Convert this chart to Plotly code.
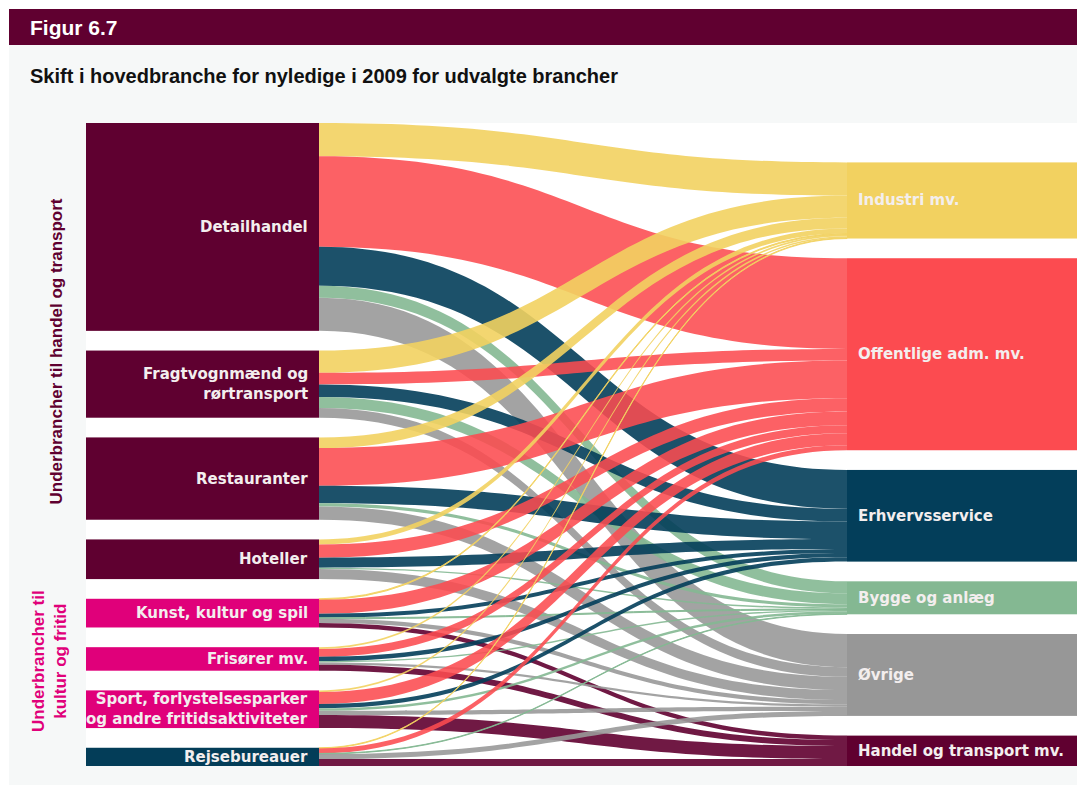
import plotly.graph_objects as go

# ---------------- data ----------------
source_names = [
    "Detailhandel",
    "Fragtvognmænd og<br>rørtransport",
    "Restauranter",
    "Hoteller",
    "Kunst, kultur og spil",
    "Frisører mv.",
    "Sport, forlystelsesparker<br>og andre fritidsaktiviteter",
    "Rejsebureauer",
]
target_names = [
    "Industri mv.",
    "Offentlige adm. mv.",
    "Erhvervsservice",
    "Bygge og anlæg",
    "Øvrige",
    "Handel og transport mv.",
]

# flows from each source to the targets (same order as target_names)
detailhandel = [333, 910, 390, 120, 333, 0]
fragtvognmaend = [223, 117, 127, 110, 97, 0]
restauranter = [107, 377, 177, 32, 133, 0]
hoteller = [50, 133, 100, 15, 100, 0]
kunst_kultur_spil = [10, 140, 40, 10, 43, 45]
frisoerer = [17, 80, 43, 13, 23, 60]
sport_fritid = [17, 120, 43, 25, 43, 130]
rejsebureauer = [7, 50, 0, 6, 50, 70]

flows = [detailhandel, fragtvognmaend, restauranter, hoteller,
         kunst_kultur_spil, frisoerer, sport_fritid, rejsebureauer]

source_colors = ["#5f0030", "#5f0030", "#5f0030", "#5f0030",
                 "#e0007a", "#e0007a", "#e0007a", "#033d58"]
target_colors = ["#f2d160", "#fc4b50", "#033e5a", "#84b892", "#979797", "#600030"]
link_colors = ["rgba(242,209,96,0.9)", "rgba(252,75,80,0.88)", "rgba(3,62,90,0.9)",
               "rgba(132,184,146,0.9)", "rgba(153,153,153,0.9)", "rgba(96,0,48,0.9)"]

# ---------------- geometry ----------------
FIG_W, FIG_H = 1077, 777
PX0, PX1 = 78, 1072      # sankey area (px from left)
PY0, PY1 = 115, 758      # sankey area (px from top)
W, H = PX1 - PX0, PY1 - PY0
THICK = 233
PAD = 19.7

nS, nT = len(source_names), len(target_names)
src_tot = [sum(r) for r in flows]
tgt_tot = [sum(r[j] for r in flows) for j in range(nT)]
total = sum(src_tot)
ky = (H - (nS - 1) * PAD) / total

# node centres (px from top of sankey area)
left_c = []
cur = 0.0
for v in src_tot:
    h = v * ky
    left_c.append(cur + h / 2)
    cur += h + PAD
right_c = [0.0] * nT
cur = H
for j in range(nT - 1, -1, -1):
    h = tgt_tot[j] * ky
    right_c[j] = cur - h / 2
    cur -= h + PAD

node_x = [(THICK / 2) / W] * nS + [(W - THICK / 2) / W] * nT
node_y = [c / H for c in left_c] + [c / H for c in right_c]

src_idx, tgt_idx, vals, lcols = [], [], [], []
for i, row in enumerate(flows):
    for j, v in enumerate(row):
        if v > 0:
            src_idx.append(i)
            tgt_idx.append(nS + j)
            vals.append(v)
            lcols.append(link_colors[j])

fig = go.Figure(go.Sankey(
    arrangement="fixed",
    domain=dict(x=[PX0 / FIG_W, PX1 / FIG_W], y=[1 - PY1 / FIG_H, 1 - PY0 / FIG_H]),
    node=dict(
        label=["" for _ in range(nS + nT)],
        customdata=[n.replace("<br>", " ") for n in source_names + target_names],
        hovertemplate="%{customdata}<extra></extra>",
        color=source_colors + target_colors,
        x=node_x, y=node_y,
        thickness=THICK, pad=PAD,
        line=dict(width=0),
    ),
    link=dict(source=src_idx, target=tgt_idx, value=vals, color=lcols,
              hoverinfo="skip"),
))

shapes = [
    dict(type="rect", xref="paper", yref="paper", x0=1 / FIG_W, x1=1, y0=0, y1=1 - 37 / FIG_H,
         fillcolor="#f6f8f8", line=dict(width=0), layer="below"),
    dict(type="rect", xref="paper", yref="paper", x0=1 / FIG_W, x1=1, y0=1 - 37 / FIG_H, y1=1 - 1 / FIG_H,
         fillcolor="#600030", line=dict(width=0), layer="below"),
    dict(type="rect", xref="paper", yref="paper", x0=PX0 / FIG_W, x1=PX1 / FIG_W,
         y0=1 - PY1 / FIG_H, y1=1 - PY0 / FIG_H,
         fillcolor="#ffffff", line=dict(width=0), layer="below"),
]

lab_font = dict(family="DejaVu Sans", size=15, color="#f3eeee", weight="bold")
ann = []
for i, name in enumerate(source_names):
    ann.append(dict(text=name, x=(PX0 + THICK - 9) / FIG_W, y=1 - (PY0 + left_c[i]) / FIG_H,
                    xref="paper", yref="paper", xanchor="right", yanchor="middle",
                    align="right", showarrow=False, font=lab_font))
for j, name in enumerate(target_names):
    ann.append(dict(text=name, x=(PX1 - THICK + 9) / FIG_W, y=1 - (PY0 + right_c[j]) / FIG_H,
                    xref="paper", yref="paper", xanchor="left", yanchor="middle",
                    align="left", showarrow=False, font=lab_font))

ann += [
    dict(text="Figur 6.7", x=20 / FIG_W, y=1 - 19.5 / FIG_H, xref="paper", yref="paper",
         xanchor="left", yanchor="middle", showarrow=False,
         font=dict(family="Liberation Sans", size=21, color="#ffffff", weight="bold")),
    dict(text="Skift i hovedbranche for nyledige i 2009 for udvalgte brancher",
         x=20 / FIG_W, y=1 - 68 / FIG_H, xref="paper", yref="paper",
         xanchor="left", yanchor="middle", showarrow=False,
         font=dict(family="Liberation Sans", size=20, color="#111111", weight="bold")),
    dict(text="Underbrancher til handel og transport", x=48 / FIG_W, y=1 - 343.5 / FIG_H,
         xref="paper", yref="paper", xanchor="center", yanchor="middle", textangle=-90,
         showarrow=False,
         font=dict(family="Liberation Sans", size=17, color="#5f0030", weight="bold")),
    dict(text="Underbrancher til<br>kultur og fritid", x=41 / FIG_W, y=1 - 653 / FIG_H,
         xref="paper", yref="paper", xanchor="center", yanchor="middle", textangle=-90,
         align="center", showarrow=False,
         font=dict(family="Liberation Sans", size=17, color="#e0007a", weight="bold")),
]

fig.update_layout(
    width=FIG_W, height=FIG_H,
    margin=dict(l=0, r=0, t=0, b=0),
    paper_bgcolor="#ffffff",
    shapes=shapes,
    annotations=ann,
    font=dict(family="DejaVu Sans"),
)

fig.write_html("out.html")
